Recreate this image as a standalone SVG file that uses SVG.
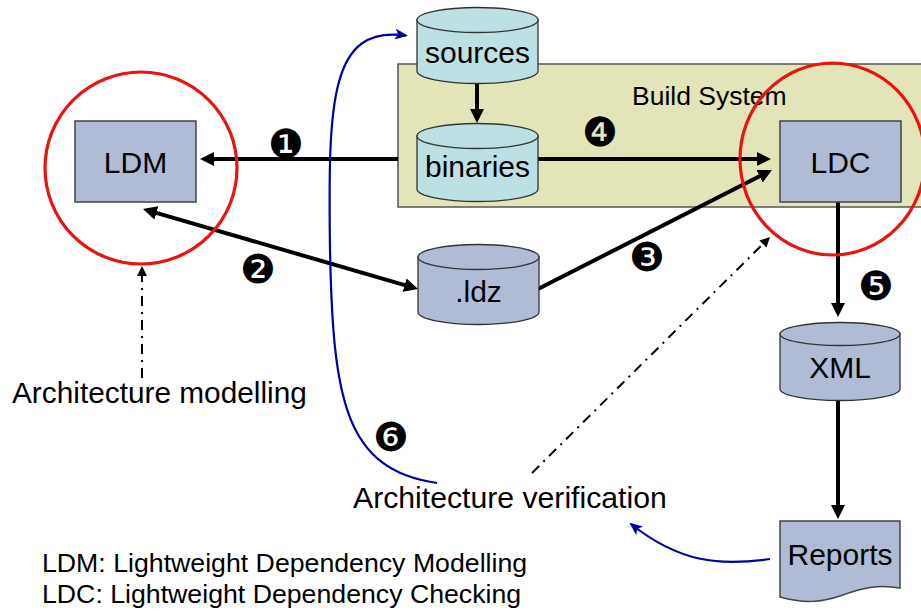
<svg xmlns="http://www.w3.org/2000/svg" width="921" height="612" viewBox="0 0 921 612">
<style>
.lbl{font-family:"Liberation Sans",Arial,sans-serif;font-size:30px;fill:#000;text-anchor:middle}
.txt{font-family:"Liberation Sans",Arial,sans-serif;fill:#000}
.num{font-family:"DejaVu Sans",sans-serif;font-size:40px;fill:#000;text-anchor:middle;dominant-baseline:central}
.cyl-c{fill:#bde0e4;stroke:#333;stroke-width:1.3}
.cyl-b{fill:#b0bcd5;stroke:#333;stroke-width:1.3}
.box{fill:#b0bcd5;stroke:#444;stroke-width:1.5}
.arr{stroke:#000;stroke-width:4;fill:none}
.dd{stroke:#000;stroke-width:2;fill:none;stroke-dasharray:10,6,2,6}
.blue{stroke:#00009c;stroke-width:2.2;fill:none}
.ring{fill:none;stroke:#e8140f;stroke-width:3.2}
</style>
<defs>
<marker id="ah" markerUnits="userSpaceOnUse" viewBox="0 0 14 14" markerWidth="14" markerHeight="14" refX="10" refY="7" orient="auto-start-reverse">
<path d="M0,0 L14,7 L0,14 z" fill="#000"/>
</marker>
<marker id="ahs" markerUnits="userSpaceOnUse" viewBox="0 0 10 10" markerWidth="10" markerHeight="10" refX="8" refY="5" orient="auto">
<path d="M0,0 L10,5 L0,10 z" fill="#000"/>
</marker>
<marker id="ahb" markerUnits="userSpaceOnUse" viewBox="0 0 13 11" markerWidth="13" markerHeight="11" refX="11" refY="5.5" orient="auto">
<path d="M0,0 L13,5.5 L0,11 L3,5.5 z" fill="#00009c"/>
</marker>
</defs>

<g id="build-system">
<rect x="398" y="64" width="540" height="143" fill="#e3e5b9" stroke="#555" stroke-width="1.5"/>
<text class="txt" x="632" y="105" font-size="26.5">Build System</text>
</g>

<g id="connectors">
<line class="arr" x1="477" y1="83" x2="477" y2="119" marker-end="url(#ah)"/>
<line class="arr" x1="398" y1="159" x2="204" y2="159" marker-end="url(#ah)"/>
<line class="arr" x1="538" y1="159" x2="767" y2="159" marker-end="url(#ah)"/>
<line class="arr" x1="146.8" y1="210.1" x2="414.2" y2="287.9" marker-start="url(#ah)" marker-end="url(#ah)"/>
<line class="arr" x1="538" y1="289" x2="768.4" y2="171.8" marker-end="url(#ah)"/>
<line class="arr" x1="838" y1="202" x2="838" y2="313" marker-end="url(#ah)"/>
<line class="arr" x1="838" y1="400" x2="838" y2="515" marker-end="url(#ah)"/>
<line class="dd" x1="142" y1="378" x2="142" y2="268" marker-end="url(#ahs)"/>
<line class="dd" x1="532" y1="473" x2="768.6" y2="238.4" marker-end="url(#ahs)"/>
<path class="blue" d="M437,483 C345,470 333,400 330,250 C328,100 330,25 406,35.5" marker-end="url(#ahb)"/>
<path class="blue" d="M770,559 C720,566 680,563 631,524" marker-end="url(#ahb)"/>
<text class="num" x="286" y="144">❶</text>
<text class="num" x="258" y="269">❷</text>
<text class="num" x="647" y="257">❸</text>
<text class="num" x="600" y="132">❹</text>
<text class="num" x="876" y="286">❺</text>
<text class="num" x="391" y="437">❻</text>
</g>

<g id="sources">
<path class="cyl-c" d="M417,20 V71 A60.5,12.5 0 0 0 538,71 V20 Z"/>
<ellipse class="cyl-c" cx="477.5" cy="20" rx="60.5" ry="12.5"/>
<text class="lbl" x="477.5" y="63">sources</text>
</g>

<g id="binaries">
<path class="cyl-c" d="M417,136 V189 A60.5,12.5 0 0 0 538,189 V136 Z"/>
<ellipse class="cyl-c" cx="477.5" cy="136" rx="60.5" ry="12.5"/>
<text class="lbl" x="477.5" y="177">binaries</text>
</g>

<g id="ldz">
<path class="cyl-b" d="M418,257 V312 A60.5,12.5 0 0 0 539,312 V257 Z"/>
<ellipse class="cyl-b" cx="478.5" cy="257" rx="60.5" ry="12.5"/>
<text class="lbl" x="478.5" y="302">.ldz</text>
</g>

<g id="ldm">
<rect class="box" x="75" y="121" width="121" height="81"/>
<text class="lbl" x="135.5" y="173">LDM</text>
</g>

<g id="ldc">
<rect class="box" x="780" y="121" width="121" height="81"/>
<text class="lbl" x="840.5" y="173">LDC</text>
</g>

<g id="xml">
<path class="cyl-b" d="M780,334 V389 A60,11.5 0 0 0 900,389 V334 Z"/>
<ellipse class="cyl-b" cx="840" cy="334" rx="60" ry="11.5"/>
<text class="lbl" x="840" y="378">XML</text>
</g>

<g id="reports">
<path class="box" d="M780,521 H900 V588 C878,584 862,588 840,596 C822,602 805,604 780,597 Z"/>
<text class="lbl" x="840" y="565">Reports</text>
</g>

<g id="ring-ldm"><circle class="ring" cx="141" cy="168" r="96"/></g>
<g id="ring-ldc"><ellipse class="ring" cx="832.5" cy="159" rx="92.5" ry="96"/></g>

<g id="arch-modelling"><text class="txt" x="12" y="403" font-size="29.8">Architecture modelling</text></g>
<g id="arch-verification"><text class="txt" x="353" y="508" font-size="30.2">Architecture verification</text></g>
<g id="legend">
<text class="txt" x="42" y="572" font-size="26.7">LDM: Lightweight Dependency Modelling</text>
<text class="txt" x="42" y="603" font-size="26.7">LDC: Lightweight Dependency Checking</text>
</g>
</svg>
